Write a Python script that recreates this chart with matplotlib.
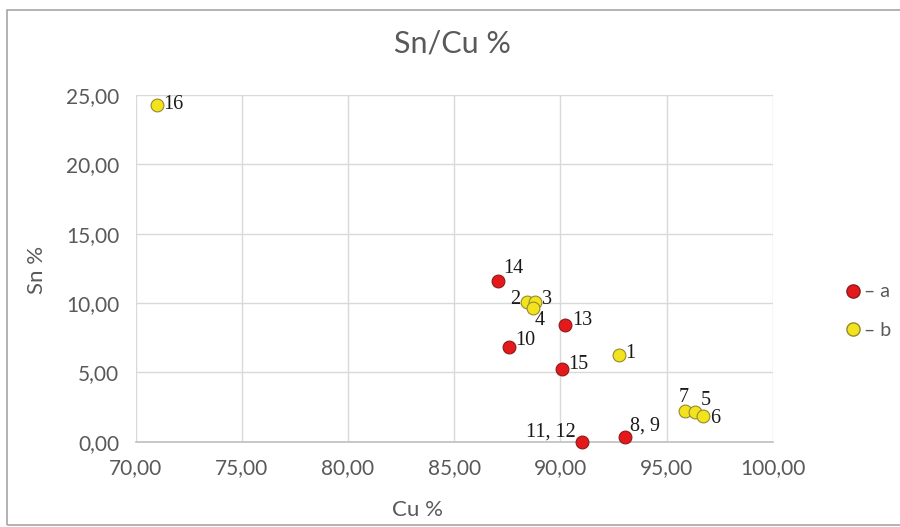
import matplotlib
matplotlib.use("Agg")
import matplotlib.pyplot as plt
from matplotlib.lines import Line2D
from matplotlib.patches import Rectangle

# ---- data ----
labels_a = ["14", "10", "13", "15", "11, 12", "8, 9"]
cu_a = [87.08, 87.58, 90.22, 90.09, 91.04, 93.05]
sn_a = [11.61, 6.85, 8.39, 5.24, 0.0, 0.36]

labels_b = ["16", "2", "3", "4", "1", "7", "5", "6"]
cu_b = [71.02, 88.45, 88.81, 88.73, 92.75, 95.87, 96.34, 96.71]
sn_b = [24.28, 10.05, 10.05, 9.62, 6.23, 2.21, 2.12, 1.87]

x_ticks = [70, 75, 80, 85, 90, 95, 100]
y_ticks = [0, 5, 10, 15, 20, 25]

title = "Sn/Cu %"
xlabel = "Cu %"
ylabel = "Sn %"
legend_labels = ["\u2013 a", "\u2013 b"]

# label offsets (px: dx, dy, ha)
offs = {
    "14": (5, 12, "left"), "10": (6, 6, "left"), "13": (7, 5, "left"),
    "15": (6, 5, "left"), "11, 12": (-7, 10, "right"), "8, 9": (5, 11, "left"),
    "16": (6, 0, "left"), "2": (-7, 3, "right"), "3": (7, 3, "left"),
    "4": (1, -12, "left"), "1": (6, 2, "left"), "7": (-1, 14, "center"),
    "5": (6, 12, "left"), "6": (7, -3, "left"),
}

plt.rcParams['font.family'] = ['Lato', 'DejaVu Sans']
grey = "#595959"

fig = plt.figure(figsize=(9, 5.27), dpi=100)
fig.patch.set_facecolor("white")
ax = fig.add_axes([135.7 / 900, 1 - 441.7 / 527, (772.7 - 135.7) / 900, (441.7 - 95) / 527])

red_face, red_edge = "#e3191c", "#8e1b1b"
yel_face, yel_edge = "#f3e31e", "#948a2c"

ax.scatter(cu_a, sn_a, s=85, c=red_face, edgecolors=red_edge, linewidths=0.8, zorder=3, clip_on=False)
ax.scatter(cu_b, sn_b, s=85, c=yel_face, edgecolors=yel_edge, linewidths=0.8, zorder=3, clip_on=False)

for labs, xs, ys in ((labels_a, cu_a, sn_a), (labels_b, cu_b, sn_b)):
    for lab, x, y in zip(labs, xs, ys):
        dx, dy, ha = offs[lab]
        ax.annotate(lab, (x, y), xytext=(dx * 0.72, dy * 0.72), textcoords="offset points",
                    ha=ha, va="center", fontsize=14.5, family="Liberation Serif",
                    color="#1a1a1a", zorder=4, annotation_clip=False)

ax.set_xlim(70, 100)
ax.set_ylim(0, 25)
ax.set_xticks(x_ticks)
ax.set_yticks(y_ticks)
ax.set_xticklabels([f"{v:.2f}".replace(".", ",") for v in x_ticks])
ax.set_yticklabels([f"{v:.2f}".replace(".", ",") for v in y_ticks])
ax.tick_params(length=0, labelsize=15, colors=grey, pad=12)
ax.tick_params(axis="x", pad=12)
ax.grid(True, color="#d9d9d9", lw=1)
ax.set_axisbelow(True)
for s in ("top", "right", "left"):
    ax.spines[s].set_visible(False)
ax.spines["bottom"].set_color("#bfbfbf")
ax.spines["bottom"].set_linewidth(1.2)

fig.text(452 / 900, 1 - 43 / 527, title, ha="center", va="center", fontsize=22, color=grey)
fig.text(417 / 900, 1 - 510 / 527, xlabel, ha="center", va="center", fontsize=16, color=grey)
fig.text(37 / 900, 1 - 270 / 527, ylabel, ha="center", va="center", rotation=90, fontsize=16, color=grey)

handles = [Line2D([], [], marker="o", ls="", markersize=9.5, markerfacecolor=red_face, markeredgecolor=red_edge),
           Line2D([], [], marker="o", ls="", markersize=9.5, markerfacecolor=yel_face, markeredgecolor=yel_edge)]
fig.legend(handles, legend_labels, loc="center left", bbox_to_anchor=(843 / 900, 1 - 311 / 527),
           frameon=False, fontsize=14, labelcolor=grey, handletextpad=0.1, labelspacing=1.1,
           handlelength=1.0, borderpad=0, borderaxespad=0)

fig.add_artist(Rectangle((7 / 900, 2 / 527), 1.1, 1 - 12 / 527, transform=fig.transFigure,
                         fill=False, edgecolor="#a6a6a6", lw=1.2))

fig.savefig("out.png", dpi=100)
